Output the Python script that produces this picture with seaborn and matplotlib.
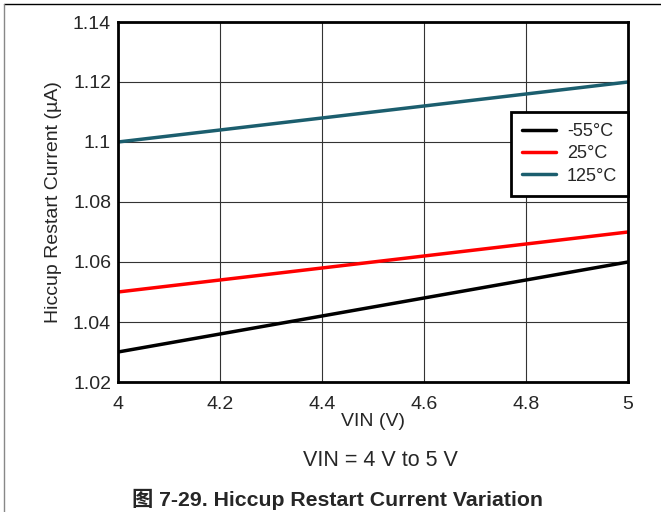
import numpy as np
import pandas as pd
import matplotlib
matplotlib.use('Agg')
import matplotlib.pyplot as plt
import seaborn as sns
from matplotlib.lines import Line2D

# Data
vin = [4.0, 5.0]
current_m55 = [1.03, 1.06]
current_25 = [1.05, 1.07]
current_125 = [1.10, 1.12]
labels = ['-55°C', '25°C', '125°C']
colors = ['#000000', '#ff0000', '#1b5e6e']

x_ticks = [4, 4.2, 4.4, 4.6, 4.8, 5]
x_tick_labels = ['4', '4.2', '4.4', '4.6', '4.8', '5']
y_ticks = [1.02, 1.04, 1.06, 1.08, 1.1, 1.12, 1.14]
y_tick_labels = ['1.02', '1.04', '1.06', '1.08', '1.1', '1.12', '1.14']

df = pd.DataFrame({
    'VIN': vin * 3,
    'Current': current_m55 + current_25 + current_125,
    'Temp': [labels[0]] * 2 + [labels[1]] * 2 + [labels[2]] * 2,
})

sns.set_style('white')
plt.rcParams['font.family'] = ['Liberation Sans', 'Noto Sans CJK SC', 'DejaVu Sans']

fig = plt.figure(figsize=(6.61, 5.12), dpi=100)
ax = fig.add_axes([118 / 661, 1 - 382 / 512, 510 / 661, 360 / 512])

sns.lineplot(data=df, x='VIN', y='Current', hue='Temp', hue_order=labels,
             palette=dict(zip(labels, colors)), linewidth=2.5, ax=ax, legend=False)

ax.set_xlim(4, 5)
ax.set_ylim(1.02, 1.14)
ax.set_xticks(x_ticks)
ax.set_xticklabels(x_tick_labels)
ax.set_yticks(y_ticks)
ax.set_yticklabels(y_tick_labels)
ax.grid(True, color='#333333', linewidth=0.8)
ax.tick_params(axis='both', labelsize=14, length=0)
ax.tick_params(axis='x', pad=10)
ax.tick_params(axis='y', pad=5)
for s in ax.spines.values():
    s.set_linewidth(2)
    s.set_color('black')
    s.set_visible(True)
ax.set_xlabel('VIN (V)', fontsize=14, labelpad=0)
ax.set_ylabel('Hiccup Restart Current (µA)', fontsize=14, labelpad=8)

handles = [Line2D([0], [0], color=c, linewidth=2.5) for c in colors]
leg = ax.legend(handles, labels, loc='upper right', bbox_to_anchor=(1.0, 0.75),
                fontsize=13, frameon=True, fancybox=False, framealpha=1,
                edgecolor='black', borderpad=0.6, labelspacing=0.3,
                handlelength=1.9, handletextpad=0.6, borderaxespad=0)
leg.get_frame().set_linewidth(2)

fig.text(380 / 661, 1 - 460 / 512, 'VIN = 4 V to 5 V', fontsize=15.5,
         ha='center', va='center')
fig.text(337 / 661, 1 - 499 / 512, '图 7-29. Hiccup Restart Current Variation',
         fontsize=15.3, fontweight='bold', ha='center', va='center')

# Page frame lines at top and left
fig.add_artist(Line2D([4 / 661, 1], [1 - 4 / 512, 1 - 4 / 512], color='black', linewidth=1))
fig.add_artist(Line2D([4 / 661, 4 / 661], [0, 1 - 4 / 512], color='#888888', linewidth=1))

fig.savefig('out.png', dpi=100)
